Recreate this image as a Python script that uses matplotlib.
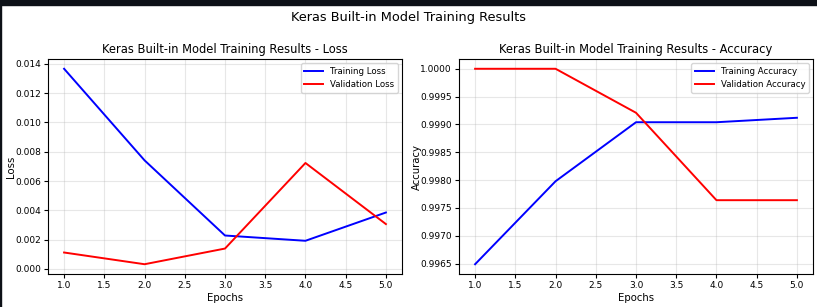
import matplotlib
matplotlib.use("Agg")
import matplotlib.pyplot as plt
from matplotlib.patches import Rectangle

epochs = [1, 2, 3, 4, 5]
train_loss = [0.01366, 0.00741, 0.00228, 0.00192, 0.00385]
val_loss = [0.00112, 0.00032, 0.00139, 0.00723, 0.00306]
train_acc = [0.99649, 0.99798, 0.99904, 0.99904, 0.99912]
val_acc = [1.0, 1.0, 0.99921, 0.99764, 0.99764]

fig = plt.figure(figsize=(8.17, 3.07), dpi=100)

# dark band of the screenshot frame
fig.patches.append(Rectangle((0, 302 / 307), 1, 5 / 307, transform=fig.transFigure,
                             color="#0d1117", zorder=10))
fig.patches.append(Rectangle((0, 0), 1.2 / 817, 1, transform=fig.transFigure,
                             color="#0d1117", zorder=10))

fig.suptitle("Keras Built-in Model Training Results", fontsize=9.3, x=0.5006, y=0.942, va="center")

ax1 = fig.add_axes([48 / 817, 33 / 307, 354 / 817, 215 / 307])
ax2 = fig.add_axes([459 / 817, 33 / 307, 354 / 817, 215 / 307])

ax1.plot(epochs, train_loss, color="blue", lw=1.4, label="Training Loss")
ax1.plot(epochs, val_loss, color="red", lw=1.4, label="Validation Loss")
ax1.set_title("Keras Built-in Model Training Results - Loss", fontsize=8.3, pad=4)
ax1.set_xlabel("Epochs", fontsize=7.3, labelpad=2)
ax1.set_ylabel("Loss", fontsize=7.3)
ax1.yaxis.set_label_coords(-0.09, 0.5)

ax2.plot(epochs, train_acc, color="blue", lw=1.4, label="Training Accuracy")
ax2.plot(epochs, val_acc, color="red", lw=1.4, label="Validation Accuracy")
ax2.set_title("Keras Built-in Model Training Results - Accuracy", fontsize=8.3, pad=4)
ax2.set_xlabel("Epochs", fontsize=7.3, labelpad=2)
ax2.set_ylabel("Accuracy", fontsize=7.3)
ax2.yaxis.set_label_coords(-0.104, 0.5)

for ax in (ax1, ax2):
    ax.grid(True, alpha=0.3)
    ax.tick_params(labelsize=6.5, length=3, pad=2)
    ax.legend(fontsize=6.2, loc="upper right", handlelength=2.2)

fig.savefig("out.png", dpi=100)
